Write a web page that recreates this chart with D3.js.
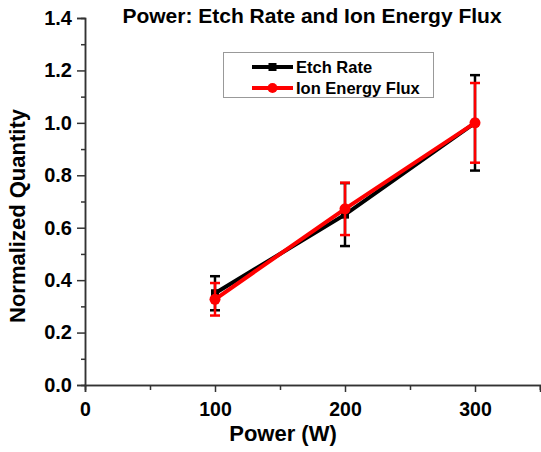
<!DOCTYPE html>
<html>
<head>
<meta charset="utf-8">
<script src="https://cdn.jsdelivr.net/npm/d3@7"></script>
<style>
  body { margin: 0; background: #fff; }
  text { font-family: "Liberation Sans", Arial, sans-serif; font-weight: bold; fill: #000; }
</style>
</head>
<body>
<svg id="chart" width="541" height="452"></svg>
<script>
// data
const powers = [100, 200, 300];
const etchRate = [0.35, 0.65, 1.0];
const etchErr = [0.065, 0.12, 0.182];
const ionFlux = [0.327, 0.672, 1.0];
const ionErr = [0.062, 0.10, 0.152];
const yTicks = [0, 0.2, 0.4, 0.6, 0.8, 1.0, 1.2, 1.4];
const yMinorTicks = [0.1, 0.3, 0.5, 0.7, 0.9, 1.1, 1.3];
const xTicks = [0, 100, 200, 300];
const xMinorTicks = [50, 150, 250, 350];

const svg = d3.select("#chart");

const xScale = d3.scaleLinear().domain([0, 350]).range([85, 540]);
const yScale = d3.scaleLinear().domain([0, 1.4]).range([385, 18]);

// axes: major ticks with labels, minor ticks in their own groups
const xAxis = d3.axisBottom(xScale).tickValues(xTicks).tickSize(7).tickPadding(10)
  .tickFormat(d3.format("d"));
const xMinor = d3.axisBottom(xScale).tickValues(xMinorTicks).tickSize(5).tickFormat("");
const yAxis = d3.axisLeft(yScale).tickValues(yTicks).tickSize(8).tickPadding(5)
  .tickFormat(d3.format(".1f"));
const yMinor = d3.axisLeft(yScale).tickValues(yMinorTicks).tickSize(4).tickFormat("");

svg.append("g").attr("transform", `translate(0, ${yScale(0)})`).call(xMinor);
svg.append("g").attr("transform", `translate(${xScale(0)}, 0)`).call(yMinor);
const gx = svg.append("g").attr("transform", `translate(0, ${yScale(0)})`).call(xAxis);
const gy = svg.append("g").attr("transform", `translate(${xScale(0)}, 0)`).call(yAxis);

svg.selectAll(".domain").attr("stroke", "#333").attr("stroke-width", 1.5);
svg.selectAll(".tick line").attr("stroke", "#333").attr("stroke-width", 1.5);
svg.selectAll("g").attr("font-family", null).attr("font-size", null);
gx.selectAll(".tick text").attr("font-size", 19.5).attr("fill", "#000");
gy.selectAll(".tick text").attr("font-size", 20).attr("fill", "#000");

const line = d3.line()
  .x((d, i) => xScale(powers[i]))
  .y((d) => yScale(d));

function drawSeries(vals, errs, color, marker) {
  // error bars
  powers.forEach((p, i) => {
    const cx = xScale(p);
    const y1 = yScale(vals[i] + errs[i]);
    const y2 = yScale(vals[i] - errs[i]);
    svg.append("line").attr("x1", cx).attr("x2", cx).attr("y1", y1).attr("y2", y2)
      .attr("stroke", color).attr("stroke-width", 2.5);
    [y1, y2].forEach((yy) => {
      svg.append("line").attr("x1", cx - 5).attr("x2", cx + 5).attr("y1", yy).attr("y2", yy)
        .attr("stroke", color).attr("stroke-width", 2.5);
    });
  });
  svg.append("path")
    .attr("d", line(vals))
    .attr("fill", "none")
    .attr("stroke", color)
    .attr("stroke-width", 4);
  powers.forEach((p, i) => {
    if (marker === "square") {
      svg.append("rect").attr("x", xScale(p) - 4).attr("y", yScale(vals[i]) - 4)
        .attr("width", 8).attr("height", 8).attr("fill", color);
    } else {
      svg.append("circle").attr("cx", xScale(p)).attr("cy", yScale(vals[i]))
        .attr("r", 5.5).attr("fill", color);
    }
  });
}

drawSeries(etchRate, etchErr, "#000", "square");
drawSeries(ionFlux, ionErr, "#f00", "circle");

// legend
const legend = svg.append("g");
legend.append("rect").attr("x", 223.5).attr("y", 52.5).attr("width", 210).attr("height", 45)
  .attr("fill", "#fff").attr("stroke", "#999").attr("stroke-width", 1);
const legendItems = [
  { name: "Etch Rate", color: "#000", marker: "square", y: 67 },
  { name: "Ion Energy Flux", color: "#f00", marker: "circle", y: 88 }
];
legendItems.forEach((d) => {
  legend.append("line").attr("x1", 252).attr("x2", 293).attr("y1", d.y).attr("y2", d.y)
    .attr("stroke", d.color).attr("stroke-width", 4);
  if (d.marker === "square") {
    legend.append("rect").attr("x", 268.5).attr("y", d.y - 4).attr("width", 8).attr("height", 8).attr("fill", d.color);
  } else {
    legend.append("circle").attr("cx", 272.5).attr("cy", d.y).attr("r", 5).attr("fill", d.color);
  }
  legend.append("text").attr("x", 296).attr("y", d.y + 6).attr("font-size", 16.5).text(d.name);
});

// title and axis labels
svg.append("text").attr("x", 312).attr("y", 23).attr("text-anchor", "middle")
  .attr("font-size", 21).text("Power: Etch Rate and Ion Energy Flux");
svg.append("text").attr("x", 283).attr("y", 441).attr("text-anchor", "middle")
  .attr("font-size", 22).text("Power (W)");
svg.append("text").attr("transform", "translate(25, 216) rotate(-90)").attr("text-anchor", "middle")
  .attr("font-size", 22).text("Normalized Quantity");
</script>
</body>
</html>
